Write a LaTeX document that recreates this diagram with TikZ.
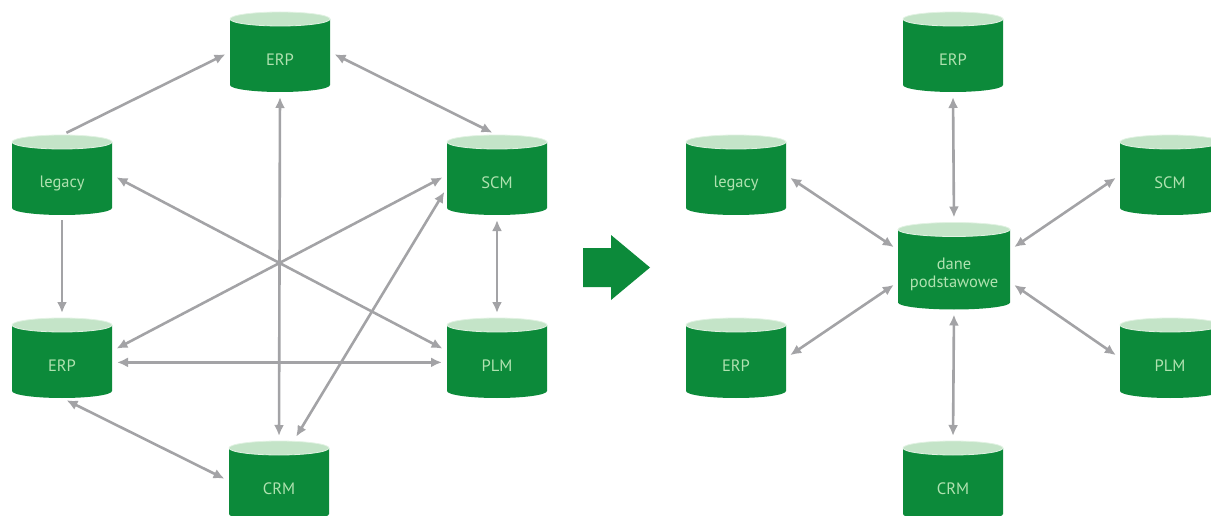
\documentclass[tikz,border=0pt]{standalone}
\usepackage{fontspec}
\newfontfamily\cylfont{PT Sans}
\usetikzlibrary{arrows.meta}
\definecolor{cylgreen}{RGB}{12,138,58}
\definecolor{cyltopc}{RGB}{196,228,200}
\definecolor{cylrim}{RGB}{225,242,226}
\definecolor{cyltextc}{RGB}{176,226,176}
\definecolor{conngray}{RGB}{163,163,166}
\tikzset{
  cylbody/.style={fill=cylgreen},
  cyltop/.style={fill=cyltopc, draw=cylrim, line width=0.8pt},
  cylbox/.style={rectangle, inner sep=0pt, outer sep=0pt},
  cyltext/.style={text=cyltextc, font=\cylfont\fontsize{16.5}{18}\selectfont, align=center, inner sep=0pt},
  conn/.style={draw=conngray, line width=2.6pt, shorten <=5pt, shorten >=5pt},
  both/.style={conn, {Latex[length=11pt,width=10pt]}-{Latex[length=11pt,width=10pt]}},
  one/.style={conn, -{Latex[length=11pt,width=10pt]}},
}
\newcommand\dbcyl[6]{%
  \begin{scope}[shift={(#2,#3)}]
    \fill[cylbody] (-#4,{-#5+7}) -- (-#4,{#5-7}) arc[start angle=180,end angle=0,x radius=#4,y radius=7] -- (#4,{-#5+7}) -- cycle;
    \filldraw[cyltop] (0,{-#5+7}) ellipse[x radius=#4,y radius=7];
  \end{scope}
  \node[cylbox,minimum width=2*#4,minimum height=2*#5] (#1) at (#2,#3) {};
  \node[cyltext] (#1-t) at ([yshift=-8pt]#1.center) {#6};
}
\begin{document}
\begin{tikzpicture}[x=1pt,y=-1pt]
\useasboundingbox (0,0) rectangle (1211,516);
\clip (0,0) rectangle (1211,516);
% left cluster
\dbcyl{erpA}{280}{52}{50}{40}{ERP}
\dbcyl{legA}{62}{175}{50}{40}{legacy}
\dbcyl{scmA}{497}{175}{50}{40}{SCM}
\dbcyl{erpB}{62}{358}{50}{40}{ERP}
\dbcyl{plmA}{497}{358}{50}{40}{PLM}
\dbcyl{crmA}{279}{481}{50}{40}{CRM}
\draw[one] (legA.north) -- (erpA.west);
\draw[both] (erpA.east) -- (scmA.north);
\draw[both] (erpA.south) -- (crmA.north);
\draw[both] (legA.east) -- (plmA.172);
\draw[one] (legA.south) -- (erpB.north);
\draw[both] (scmA.south) -- (plmA.north);
\draw[both] (scmA.west) -- (erpB.8);
\draw[both] (scmA.194) -- (crmA.70);
\draw[both] (erpB.-5) -- (plmA.185);
\draw[both] (erpB.south) -- (crmA.west);
% transition arrow
\fill[cylgreen] (583,248) -- (611,248) -- (611,235) -- (650,267.5) -- (611,300) -- (611,287) -- (583,287) -- cycle;
% right cluster
\dbcyl{erpR}{953}{52}{50}{40}{ERP}
\dbcyl{legR}{736}{175}{50}{40}{legacy}
\dbcyl{scmR}{1170}{175}{50}{40}{SCM}
\dbcyl{dane}{954}{266}{56}{43.5}{dane\\podstawowe}
\dbcyl{erpS}{736}{358}{50}{40}{ERP}
\dbcyl{plmR}{1170}{358}{50}{40}{PLM}
\dbcyl{crmR}{953}{481}{50}{40}{CRM}
\draw[both] (erpR.south) -- (dane.north);
\draw[both] (legR.east) -- (dane.164);
\draw[both] (scmR.west) -- (dane.16);
\draw[both] (erpS.east) -- (dane.196);
\draw[both] (plmR.west) -- (dane.-16);
\draw[both] (crmR.north) -- (dane.south);
\end{tikzpicture}
\end{document}
